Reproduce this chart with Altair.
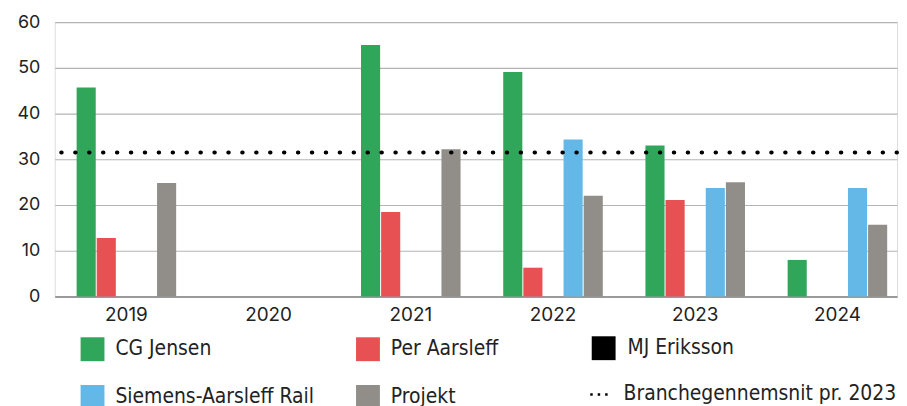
import altair as alt
import pandas as pd

years = ["2019", "2020", "2021", "2022", "2023", "2024"]
series_names = ["CG Jensen", "Per Aarsleff", "MJ Eriksson", "Siemens-Aarsleff Rail", "Projekt"]
cg_jensen = [45.7, 0, 55.0, 49.1, 33.0, 8.0]
per_aarsleff = [12.8, 0, 18.5, 6.3, 21.1, 0]
mj_eriksson = [0, 0, 0, 0, 0, 0]
siemens_aarsleff = [0, 0, 0, 34.3, 23.7, 23.7]
projekt = [24.8, 0, 32.2, 22.0, 25.0, 15.7]
avg_label = "Branchegennemsnit pr. 2023"
avg_value = 31.5

# legend order (grid filled column by column, 2 rows)
legend_series = ["CG Jensen", "Siemens-Aarsleff Rail", "Per Aarsleff", "Projekt"]
legend_colors = ["#2FA65A", "#63B8E8", "#E85153", "#918D88"]

rows = []
for name, vals in zip(["CG Jensen", "Per Aarsleff", "Siemens-Aarsleff Rail", "Projekt"],
                      [cg_jensen, per_aarsleff, siemens_aarsleff, projekt]):
    for yr, v in zip(years, vals):
        rows.append({"year": yr, "series": name, "value": v})
df = pd.DataFrame(rows)
df_mj = pd.DataFrame({"year": years, "series": ["MJ Eriksson"] * len(years), "value": mj_eriksson})
df_avg = pd.DataFrame({"label": [avg_label], "value": [avg_value]})

LABEL_FONT = "Liberation Sans Narrow, DejaVu Sans Condensed, Noto Sans, sans-serif"
AXIS_FONT = "Inter, Noto Sans, sans-serif"

x_enc = alt.X(
    "year:N", sort=years,
    scale=alt.Scale(domain=years, paddingInner=0.3, paddingOuter=0.1115, align=0.69),
    axis=alt.Axis(title=None, labelAngle=0, ticks=False, domain=True, domainColor="#9a9a9a",
                  domainWidth=2, labelFont=AXIS_FONT, labelFontSize=19, labelColor="#222222",
                  labelPadding=9, grid=False),
)
xo_enc = alt.XOffset("series:N", sort=series_names,
                     scale=alt.Scale(domain=series_names, paddingInner=0.05))
y_enc = alt.Y(
    "value:Q", scale=alt.Scale(domain=[0, 60], nice=False),
    axis=alt.Axis(title=None, values=[0, 10, 20, 30, 40, 50, 60], domain=False, ticks=False,
                  grid=True, gridColor="#b4b4b4", gridWidth=1.2, labelFont=AXIS_FONT,
                  labelFontSize=18, labelColor="#222222", labelPadding=15),
)

common_legend = dict(title=None, orient="none", labelFont=LABEL_FONT, labelFontSize=21,
                     labelColor="#222222", padding=0, labelLimit=400)

bars = alt.Chart(df).mark_bar().encode(
    x=x_enc, xOffset=xo_enc, y=y_enc,
    color=alt.Color("series:N",
                    scale=alt.Scale(domain=legend_series, range=legend_colors),
                    legend=alt.Legend(legendX=26, legendY=317, columns=2,
                                      columnPadding=42, rowPadding=24,
                                      symbolType="square", symbolSize=576, symbolStrokeWidth=0,
                                      labelOffset=11, **common_legend)),
)

mj = alt.Chart(df_mj).mark_bar().encode(
    x=x_enc, xOffset=xo_enc, y=y_enc,
    fill=alt.Fill("series:N", scale=alt.Scale(domain=["MJ Eriksson"], range=["#000000"]),
                  legend=alt.Legend(legendX=540, legendY=316,
                                    symbolType="square", symbolSize=576, symbolStrokeWidth=0,
                                    labelOffset=12, **common_legend)),
)

rule = alt.Chart(df_avg).mark_rule(strokeDash=[0.5, 13.5], strokeWidth=4, strokeCap="round").encode(
    y=alt.Y("value:Q"),
    stroke=alt.Stroke("label:N", scale=alt.Scale(domain=[avg_label], range=["#000000"]),
                      legend=alt.Legend(legendX=537, legendY=363,
                                        symbolType="stroke", symbolSize=400,
                                        symbolDash=[2.5, 5], symbolStrokeWidth=2.5,
                                        symbolStrokeColor="#000000",
                                        labelOffset=12, **common_legend)),
)

chart = alt.layer(bars, mj, rule).properties(
    width=847, height=276,
    padding={"left": 9, "top": 4, "right": 0, "bottom": 0},
).configure_view(stroke=None).configure(background="white")

chart.save("out.html", embed_options={"renderer": "svg", "actions": False})
